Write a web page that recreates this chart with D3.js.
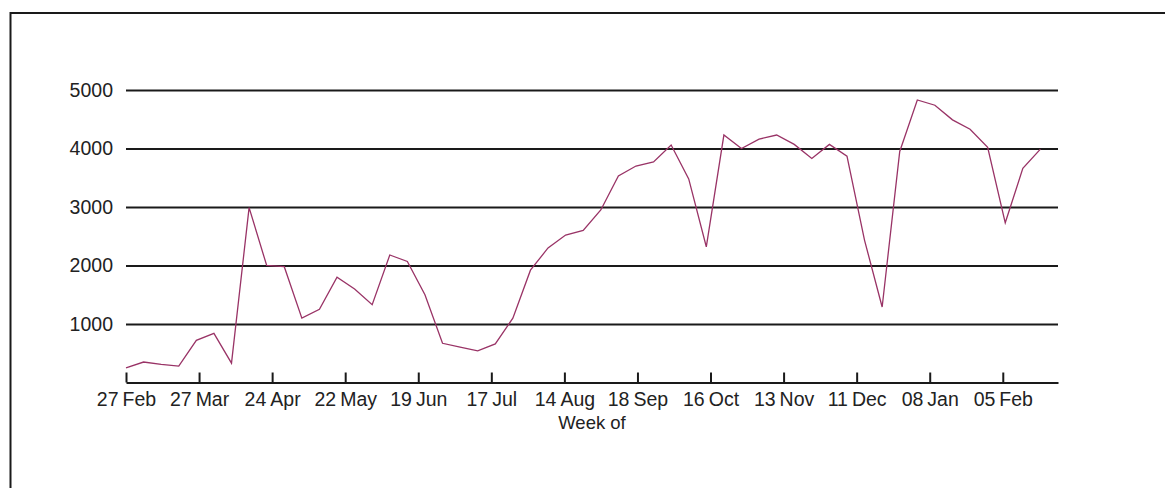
<!DOCTYPE html>
<html>
<head>
<meta charset="utf-8">
<script src="https://cdn.jsdelivr.net/npm/d3@7"></script>
<style>
  body { margin: 0; background: #fff; }
  svg { display: block; font-family: "Liberation Sans", Arial, sans-serif; }
  .axis-y .domain { display: none; }
  .axis-y line { stroke: #1a1a1a; stroke-width: 2; }
  .axis-x .domain, .axis-x line { stroke: #1a1a1a; stroke-width: 2; }
  .axis-y text, .axis-x text { font-size: 19.5px; fill: #222; }
  .title-x { font-size: 18.5px; fill: #222; }
</style>
</head>
<body>
<svg></svg>
<script>
// weekly values, one per week starting 27 Feb
const weekValues = [
  250, 350, 310, 280, 720, 840, 330, 2990, 2000, 1980,
  1100, 1250, 1800, 1600, 1330, 2180, 2070, 1500, 670, 605,
  540, 660, 1100, 1920, 2300, 2520, 2600, 2950, 3530, 3700,
  3770, 4060, 3480, 2320, 4230, 4000, 4160, 4230, 4070, 3830,
  4070, 3870, 2430, 1290, 3950, 4830, 4740, 4490, 4330, 4020,
  2730, 3660, 3990
];
const tickLabels = ['27Feb', '27Mar', '24Apr', '22May', '19Jun', '17Jul', '14Aug',
  '18Sep', '16Oct', '13Nov', '11Dec', '08Jan', '05Feb'];
const yTicks = [1000, 2000, 3000, 4000, 5000];
const xTitle = 'Week of';

const SVGsize = {w: 1165, h: 488};
const plot = {l: 126, r: 1058, t: 90, b: 382.5};
const weeksPerTick = 4.155; // axis labels sit a bit further apart than the data weeks

const svg = d3.select('svg')
    .attr('width', SVGsize.w)
    .attr('height', SVGsize.h);

// frame (only left and top edges show in the picture)
svg.append('rect')
    .attr('x', 10.5)
    .attr('y', 13)
    .attr('width', SVGsize.w + 20)
    .attr('height', SVGsize.h + 20)
    .attr('fill', 'none')
    .attr('stroke', '#1a1a1a')
    .attr('stroke-width', 2);

const scaleX = d3.scaleLinear()
    .domain([0, weekValues.length])
    .range([plot.l, plot.r]);

const scaleY = d3.scaleLinear()
    .domain([0, 5000])
    .range([plot.b, plot.t]);

let axisY = d3.axisLeft(scaleY)
    .tickValues(yTicks)
    .tickSize(-(plot.r - plot.l))
    .tickPadding(13)
    .tickFormat(d3.format('d'));
svg.append('g')
    .classed('axis-y', true)
    .attr('transform', `translate(${plot.l}, 0)`)
    .call(axisY);

let axisX = d3.axisBottom(scaleX)
    .tickValues(tickLabels.map((d, i) => i * weeksPerTick))
    .tickSizeInner(-10)
    .tickSizeOuter(0)
    .tickPadding(10)
    .tickFormat((d, i) => tickLabels[i]);
let axisXG = svg.append('g')
    .classed('axis-x', true)
    .attr('transform', `translate(0, ${plot.b})`)
    .call(axisX);

// split "27Feb" into day + month with a small gap, as in the original
axisXG.selectAll('.tick text').each(function(d, i) {
    const label = tickLabels[i];
    const t = d3.select(this).text('');
    t.append('tspan').text(label.slice(0, 2));
    t.append('tspan').attr('dx', 4).text(label.slice(2));
});

svg.append('text')
    .classed('title-x', true)
    .attr('x', (plot.l + plot.r) / 2)
    .attr('y', 429)
    .attr('text-anchor', 'middle')
    .text(xTitle);

const line = d3.line()
    .x((d, i) => scaleX(i))
    .y(d => scaleY(d));

svg.append('path')
    .datum(weekValues)
    .attr('d', line)
    .attr('fill', 'none')
    .attr('stroke', '#993366')
    .attr('stroke-width', 1.3);
</script>
</body>
</html>
